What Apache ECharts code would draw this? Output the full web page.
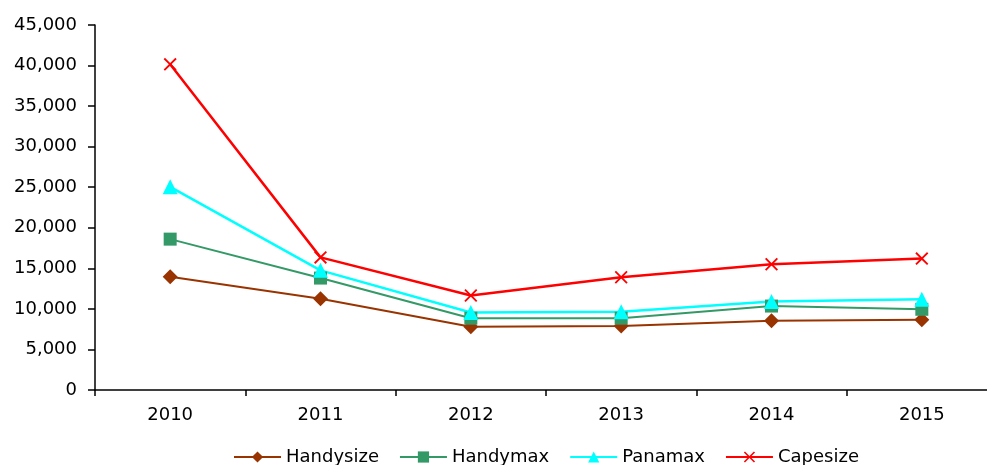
<!DOCTYPE html>
<html>
<head>
<meta charset="utf-8">
<script src="https://cdn.jsdelivr.net/npm/echarts@6/dist/echarts.min.js"></script>
<style>
  html, body { margin: 0; padding: 0; background: #fff; }
  #chart { width: 987px; height: 465px; }
</style>
</head>
<body>
<div id="chart"></div>
<script>
// Years on the category axis
const years = ['2010', '2011', '2012', '2013', '2014', '2015'];

// Values per vessel class
const handysize = [13950, 11250, 7800, 7900, 8550, 8650];
const handymax  = [18600, 13800, 8850, 8850, 10350, 9950];
const panamax   = [25050, 14750, 9550, 9650, 10900, 11200];
const capesize  = [40150, 16350, 11650, 13900, 15500, 16200];

// Y-axis ticks
const yMin = 0, yMax = 45000, yStep = 5000;

const FONT = '"DejaVu Sans", Verdana, sans-serif';
const crossPath = 'path://M0,1 L1,0 L5,4 L9,0 L10,1 L6,5 L10,9 L9,10 L5,6 L1,10 L0,9 L4,5 Z';

function lineSeries(name, data, color, symbol, size, width) {
  return {
    name: name,
    type: 'line',
    data: data,
    symbol: symbol,
    symbolSize: size,
    showAllSymbol: true,
    lineStyle: { color: color, width: width },
    itemStyle: { color: color, borderWidth: 0 },
    emphasis: { disabled: true },
    animation: false
  };
}

const chart = echarts.init(document.getElementById('chart'));
chart.setOption({
  backgroundColor: '#ffffff',
  textStyle: { fontFamily: FONT },
  // plot area runs past the right edge of the canvas
  grid: { left: 95, top: 25, width: 902, height: 365, outerBoundsMode: 'none', containLabel: false },
  legend: {
    bottom: -6,
    left: 228,
    itemWidth: 47,
    itemHeight: 14,
    itemGap: 20,
    textStyle: { fontSize: 18, color: '#000', fontFamily: FONT },
    data: ['Handysize', 'Handymax', 'Panamax', 'Capesize']
  },
  xAxis: {
    type: 'category',
    data: years,
    boundaryGap: true,
    axisLine: { lineStyle: { color: '#000', width: 1.5 } },
    axisTick: { show: true, length: 6, lineStyle: { color: '#000', width: 1.5 } },
    axisLabel: { fontSize: 18, color: '#000', margin: 16, fontFamily: FONT },
    splitLine: { show: false }
  },
  yAxis: {
    type: 'value',
    min: yMin,
    max: yMax,
    interval: yStep,
    axisLine: { show: true, lineStyle: { color: '#000', width: 1.5 } },
    axisTick: { show: true, length: 7, lineStyle: { color: '#000', width: 1.5 } },
    axisLabel: {
      fontSize: 18,
      color: '#000',
      margin: 18,
      fontFamily: FONT,
      formatter: v => v.toLocaleString('en-US')
    },
    splitLine: { show: false }
  },
  series: [
    lineSeries('Handysize', handysize, '#993300', 'diamond', 15, 2),
    lineSeries('Handymax', handymax, '#339966', 'rect', 13, 2),
    lineSeries('Panamax', panamax, '#00ffff', 'triangle', 15, 2.5),
    lineSeries('Capesize', capesize, '#ff0000', crossPath, 13, 2.5)
  ]
});
</script>
</body>
</html>
